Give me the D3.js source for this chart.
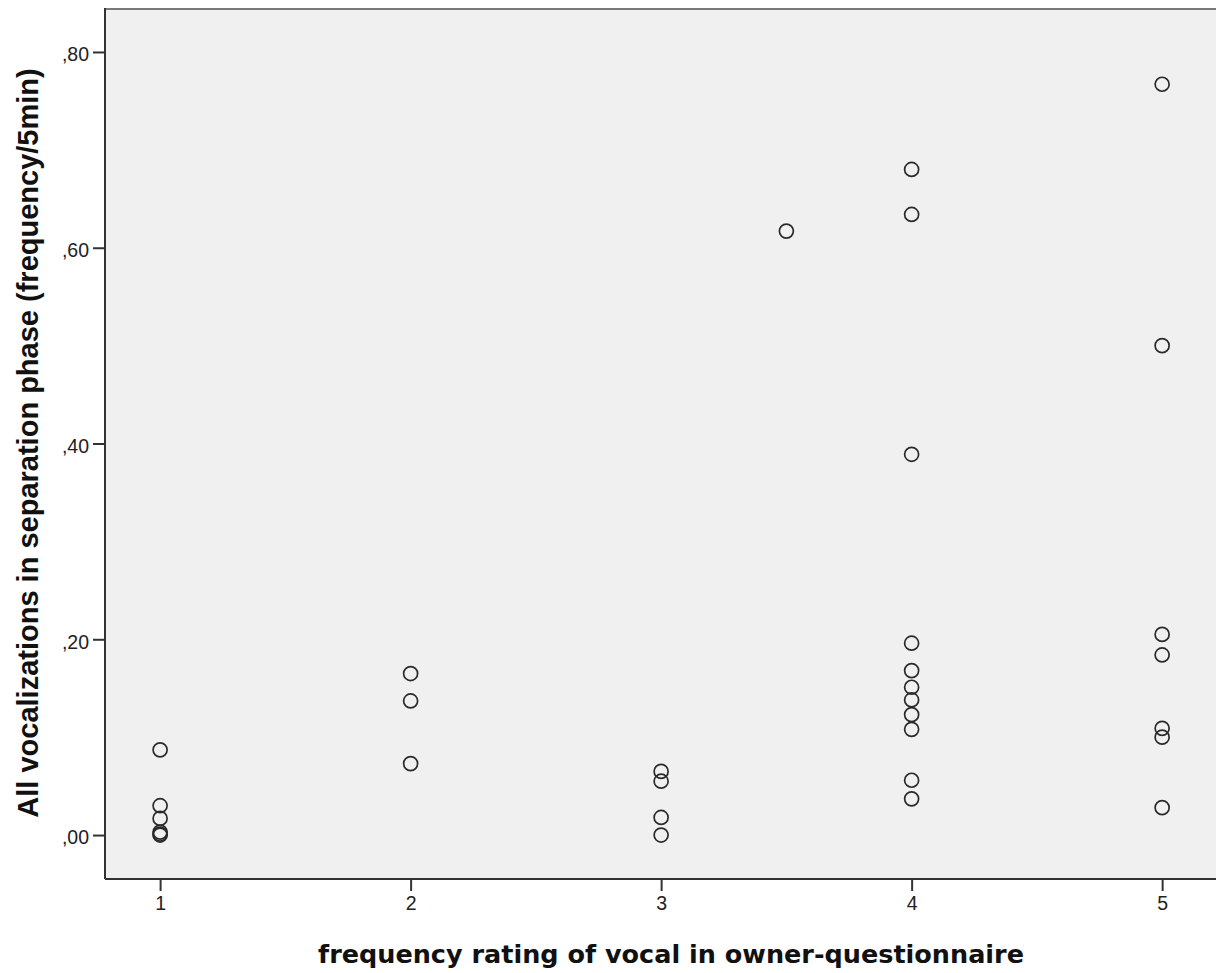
<!DOCTYPE html>
<html>
<head>
<meta charset="utf-8">
<script src="https://cdn.jsdelivr.net/npm/d3@7"></script>
<style>
  html, body { margin: 0; padding: 0; background: #ffffff; }
  svg { display: block; }
</style>
</head>
<body>
<script>
// Owner-rated vocal frequency (x) vs. vocalizations per 5 min in separation phase (y)
const ratingGroup1 = [1, 1, 1, 1, 1, 1];
const vocalGroup1  = [0.087, 0.030, 0.017, 0.003, 0.001, 0.000];
const ratingGroup2 = [2, 2, 2];
const vocalGroup2  = [0.165, 0.137, 0.073];
const ratingGroup3 = [3, 3, 3, 3, 3.5];
const vocalGroup3  = [0.065, 0.055, 0.018, 0.000, 0.617];
const ratingGroup4 = [4, 4, 4, 4, 4, 4, 4, 4, 4, 4, 4];
const vocalGroup4  = [0.680, 0.634, 0.389, 0.196, 0.168, 0.151, 0.138, 0.123, 0.108, 0.056, 0.037];
const ratingGroup5 = [5, 5, 5, 5, 5, 5, 5];
const vocalGroup5  = [0.767, 0.500, 0.205, 0.184, 0.109, 0.100, 0.028];

const xTicks = [1, 2, 3, 4, 5];
const yTicks = [0, 0.2, 0.4, 0.6, 0.8];
const xTitle = "frequency rating of vocal in owner-questionnaire";
const yTitle = "All vocalizations in separation phase (frequency/5min)";

const points = [
  [ratingGroup1, vocalGroup1], [ratingGroup2, vocalGroup2], [ratingGroup3, vocalGroup3],
  [ratingGroup4, vocalGroup4], [ratingGroup5, vocalGroup5]
].flatMap(([xs, ys]) => xs.map((x, i) => ({ x, y: ys[i] })));

const W = 1216, H = 973;
const plot = { left: 105, top: 9, right: 1218, bottom: 879 };

const svg = d3.select("body").append("svg").attr("width", W).attr("height", H);

const x = d3.scaleLinear().domain([0.78, 5.223]).range([plot.left, plot.right]);
const y = d3.scaleLinear().domain([-0.0449, 0.8439]).range([plot.bottom, plot.top]);

// plot background and frame
svg.append("rect")
  .attr("x", plot.left).attr("y", plot.top)
  .attr("width", plot.right - plot.left).attr("height", plot.bottom - plot.top)
  .attr("fill", "#f0f0f0");
svg.append("line")
  .attr("x1", plot.left).attr("x2", plot.right)
  .attr("y1", plot.top).attr("y2", plot.top)
  .attr("stroke", "#7a7a7a").attr("stroke-width", 2);

const fmtY = v => d3.format(".2f")(v).replace(/^0\./, ",");

const yAxis = svg.append("g")
  .attr("transform", `translate(${plot.left},0)`)
  .call(d3.axisLeft(y).tickValues(yTicks).tickFormat(fmtY).tickSize(12).tickPadding(4));
const xAxis = svg.append("g")
  .attr("transform", `translate(0,${plot.bottom})`)
  .call(d3.axisBottom(x).tickValues(xTicks).tickFormat(d3.format("d")).tickSize(12).tickPadding(5));

[yAxis, xAxis].forEach(g => {
  g.attr("font-size", 19.5).attr("font-family", "'Liberation Sans', Arial, sans-serif");
  g.select(".domain").remove();
  g.selectAll(".tick line").attr("stroke", "#333").attr("stroke-width", 2);
  g.selectAll(".tick text").attr("fill", "#222");
});
yAxis.selectAll(".tick text").attr("dy", "0.45em");

// axis lines
svg.append("line")
  .attr("x1", plot.left).attr("x2", plot.left)
  .attr("y1", plot.top - 1).attr("y2", plot.bottom)
  .attr("stroke", "#333").attr("stroke-width", 2);
svg.append("line")
  .attr("x1", plot.left).attr("x2", plot.right)
  .attr("y1", plot.bottom).attr("y2", plot.bottom)
  .attr("stroke", "#333").attr("stroke-width", 2);

// data markers
svg.append("g")
  .selectAll("circle")
  .data(points)
  .join("circle")
  .attr("cx", d => x(d.x))
  .attr("cy", d => y(d.y))
  .attr("r", 7)
  .attr("fill", "none")
  .attr("stroke", "#2a2a2a")
  .attr("stroke-width", 1.7);

// axis titles
svg.append("text")
  .attr("x", 671).attr("y", 963)
  .attr("text-anchor", "middle")
  .attr("font-family", "'DejaVu Sans', Verdana, sans-serif")
  .attr("font-weight", "bold")
  .attr("font-size", 25.5)
  .attr("fill", "#111")
  .text(xTitle);

svg.append("text")
  .attr("transform", "translate(38,443) rotate(-90)")
  .attr("text-anchor", "middle")
  .attr("font-family", "'Liberation Sans', Arial, sans-serif")
  .attr("font-weight", "bold")
  .attr("font-size", 29)
  .attr("fill", "#111")
  .text(yTitle);
</script>
</body>
</html>
